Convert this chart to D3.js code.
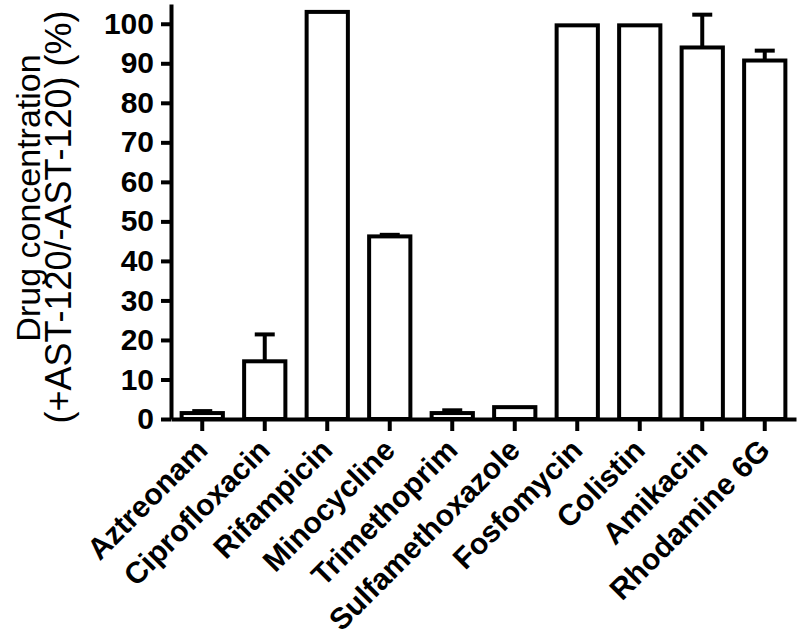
<!DOCTYPE html>
<html>
<head>
<meta charset="utf-8">
<script src="https://cdn.jsdelivr.net/npm/d3@7/dist/d3.min.js"></script>
<style>
  html, body { margin: 0; padding: 0; background: #fff; }
  svg { display: block; }
</style>
</head>
<body>
<svg id="chart" width="800" height="639"></svg>
<script>
const categories = ["Aztreonam", "Ciprofloxacin", "Rifampicin", "Minocycline", "Trimethoprim",
                    "Sulfamethoxazole", "Fosfomycin", "Colistin", "Amikacin", "Rhodamine 6G"];
const values = [1.5, 14.6, 103, 46.2, 1.5, 3.0, 99.6, 99.6, 94.0, 90.7];
const errors = [0.5, 6.8, 0, 0.4, 0.7, 0, 0, 0, 8.3, 2.5];
const yTicks = [0, 10, 20, 30, 40, 50, 60, 70, 80, 90, 100];
const yLabelLines = ["Drug concentration", "(+AST-120/-AST-120) (%)"];

const svg = d3.select("#chart");
const font = "'Liberation Sans', Arial, Helvetica, sans-serif";

const x = d3.scaleBand().domain(categories).range([171, 796]).paddingInner(0.34).paddingOuter(0.17);
const y = d3.scaleLinear().domain([0, 105]).range([419, 4]);

// bars
svg.append("g").selectAll("rect").data(categories).join("rect")
  .attr("x", d => x(d))
  .attr("width", x.bandwidth())
  .attr("y", (d, i) => y(values[i]))
  .attr("height", (d, i) => y(0) - y(values[i]))
  .attr("fill", "#fff")
  .attr("stroke", "#000")
  .attr("stroke-width", 4);

// error bars (upper only)
const eg = svg.append("g").attr("stroke", "#000").attr("stroke-width", 4);
categories.forEach((c, i) => {
  if (errors[i] <= 0) return;
  const cx = x(c) + x.bandwidth() / 2;
  eg.append("line").attr("x1", cx).attr("x2", cx)
    .attr("y1", y(values[i])).attr("y2", y(values[i] + errors[i]));
  eg.append("line").attr("x1", cx - 10).attr("x2", cx + 10)
    .attr("y1", y(values[i] + errors[i])).attr("y2", y(values[i] + errors[i]));
});

// y axis
const yAxis = svg.append("g").attr("transform", "translate(171,0)")
  .call(d3.axisLeft(y).tickValues(yTicks).tickSize(10).tickSizeOuter(0).tickPadding(7));
yAxis.select(".domain").attr("stroke-width", 4);
yAxis.selectAll(".tick line").attr("stroke-width", 4);
yAxis.selectAll(".tick text")
  .attr("font-family", font).attr("font-weight", "bold").attr("font-size", 30)
  .attr("fill", "#000");

// x axis
const xAxis = svg.append("g").attr("transform", "translate(0,419)")
  .call(d3.axisBottom(x).tickSize(12).tickSizeOuter(0).tickFormat(""));
xAxis.select(".domain").attr("stroke-width", 4);
xAxis.selectAll(".tick line").attr("stroke-width", 4);

// x labels rotated
svg.append("g").selectAll("text").data(categories).join("text")
  .attr("transform", d => `translate(${x(d) + x.bandwidth() / 2 + 7},452) rotate(-45)`)
  .attr("text-anchor", "end")
  .attr("font-family", font).attr("font-weight", "bold").attr("font-size", 30)
  .attr("fill", "#000")
  .text(d => d);

// y label
const yLabSizes = [34, 36];
const yLabCenters = [198, 217];
svg.append("g").selectAll("text").data(yLabelLines).join("text")
  .attr("transform", (d, i) => `translate(${40 + i * 31},${yLabCenters[i]}) rotate(-90)`)
  .attr("text-anchor", "middle")
  .attr("font-family", font).attr("font-size", (d, i) => yLabSizes[i])
  .attr("fill", "#000")
  .text(d => d);
</script>
</body>
</html>
